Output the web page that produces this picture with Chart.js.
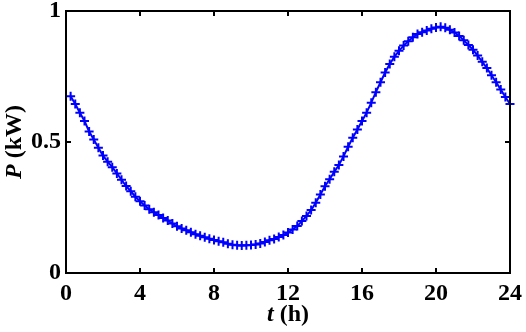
<!DOCTYPE html>
<html>
<head>
<meta charset="utf-8">
<script src="https://cdn.jsdelivr.net/npm/chart.js@4"></script>
<style>
html, body { margin: 0; padding: 0; background: #fff; }
#wrap { width: 526px; height: 332px; }
</style>
</head>
<body>
<div id="wrap"><canvas id="power"></canvas></div>
<script>
// Daily power profile, one point every 15 min
var hours = [0.25, 0.5, 0.75, 1, 1.25, 1.5, 1.75, 2, 2.25, 2.5, 2.75, 3,
  3.25, 3.5, 3.75, 4, 4.25, 4.5, 4.75, 5, 5.25, 5.5, 5.75, 6,
  6.25, 6.5, 6.75, 7, 7.25, 7.5, 7.75, 8, 8.25, 8.5, 8.75, 9,
  9.25, 9.5, 9.75, 10, 10.25, 10.5, 10.75, 11, 11.25, 11.5, 11.75, 12,
  12.25, 12.5, 12.75, 13, 13.25, 13.5, 13.75, 14, 14.25, 14.5, 14.75, 15,
  15.25, 15.5, 15.75, 16, 16.25, 16.5, 16.75, 17, 17.25, 17.5, 17.75, 18,
  18.25, 18.5, 18.75, 19, 19.25, 19.5, 19.75, 20, 20.25, 20.5, 20.75, 21,
  21.25, 21.5, 21.75, 22, 22.25, 22.5, 22.75, 23, 23.25, 23.5, 23.75, 24];
var power = [0.675, 0.645, 0.612, 0.58, 0.54, 0.51, 0.478, 0.448, 0.425, 0.404, 0.38, 0.356,
  0.332, 0.312, 0.291, 0.274, 0.258, 0.243, 0.232, 0.221, 0.21, 0.2, 0.189, 0.178,
  0.17, 0.163, 0.156, 0.148, 0.142, 0.136, 0.131, 0.126, 0.121, 0.117, 0.112, 0.108,
  0.106, 0.105, 0.106, 0.107, 0.109, 0.113, 0.118, 0.125, 0.13, 0.137, 0.145, 0.155,
  0.166, 0.179, 0.198, 0.218, 0.24, 0.268, 0.3, 0.331, 0.358, 0.386, 0.412, 0.445,
  0.482, 0.516, 0.548, 0.58, 0.612, 0.65, 0.69, 0.728, 0.765, 0.798, 0.825, 0.848,
  0.868, 0.885, 0.9, 0.912, 0.919, 0.926, 0.932, 0.937, 0.94, 0.936, 0.928, 0.918,
  0.905, 0.888, 0.87, 0.852, 0.83, 0.806, 0.782, 0.755, 0.728, 0.7, 0.672, 0.645];
var xTicks = [0, 4, 8, 12, 16, 20, 24];
var yTicks = [0, 0.5, 1];

var serif = '"Liberation Serif", "Times New Roman", serif';

// matlab style box, inward ticks and mixed-style axis titles
var frame = {
  id: 'frame',
  afterDraw: function(chart) {
    var ctx = chart.ctx, a = chart.chartArea;
    var xs = chart.scales.x, ys = chart.scales.y;
    ctx.save();
    ctx.strokeStyle = '#000';
    ctx.lineWidth = 2;
    ctx.strokeRect(a.left, a.top, a.right - a.left, a.bottom - a.top);
    ctx.beginPath();
    xTicks.forEach(function(v) {
      var px = Math.round(xs.getPixelForValue(v));
      ctx.moveTo(px, a.bottom); ctx.lineTo(px, a.bottom - 5);
      ctx.moveTo(px, a.top); ctx.lineTo(px, a.top + 5);
    });
    yTicks.forEach(function(v) {
      var py = Math.round(ys.getPixelForValue(v));
      ctx.moveTo(a.left, py); ctx.lineTo(a.left + 5, py);
      ctx.moveTo(a.right, py); ctx.lineTo(a.right - 5, py);
    });
    ctx.stroke();

    ctx.fillStyle = '#000';
    ctx.textBaseline = 'alphabetic';
    // x title: t (h)
    var f1 = 'italic bold 24px ' + serif, f2 = 'bold 24px ' + serif;
    ctx.font = f1; var w1 = ctx.measureText('t').width;
    ctx.font = f2; var w2 = ctx.measureText(' (h)').width;
    var cx = (a.left + a.right) / 2 - (w1 + w2) / 2;
    ctx.font = f1; ctx.fillText('t', cx, 321);
    ctx.font = f2; ctx.fillText(' (h)', cx + w1, 321);
    // y title: P (kW)
    ctx.translate(21, (a.top + a.bottom) / 2);
    ctx.rotate(-Math.PI / 2);
    ctx.font = f1; w1 = ctx.measureText('P').width;
    ctx.font = f2; w2 = ctx.measureText(' (kW)').width;
    ctx.font = f1; ctx.fillText('P', -(w1 + w2) / 2, 0);
    ctx.font = f2; ctx.fillText(' (kW)', -(w1 + w2) / 2 + w1, 0);
    ctx.restore();
  }
};

var ctx = document.getElementById('power').getContext('2d');
var myChart = new Chart(ctx, {
  type: 'line',
  data: {
    datasets: [{
      label: 'P',
      data: hours.map(function(t, i) { return { x: t, y: power[i] }; }),
      borderColor: '#0000ff',
      backgroundColor: '#0000ff',
      borderWidth: 2,
      pointStyle: 'cross',
      pointRadius: 4.5,
      pointBorderWidth: 2,
      pointBorderColor: '#0000ff',
      tension: 0,
      clip: false
    }]
  },
  options: {
    responsive: true,
    maintainAspectRatio: false,
    animation: false,
    layout: { padding: { left: 0, top: 11, right: 16, bottom: 0 } },
    plugins: { legend: { display: false }, tooltip: { enabled: false } },
    scales: {
      x: {
        type: 'linear', min: 0, max: 24,
        afterBuildTicks: function(s) { s.ticks = xTicks.map(function(v) { return { value: v }; }); },
        afterFit: function(s) { s.height = 59; s.paddingLeft = 0; s.paddingRight = 0; },
        grid: { display: false, drawTicks: false },
        border: { display: false },
        ticks: { color: '#000', padding: 6, maxRotation: 0, font: { family: serif, size: 24, weight: 'bold' },
          callback: function(v) { return String(v); } }
      },
      y: {
        min: 0, max: 1,
        afterBuildTicks: function(s) { s.ticks = yTicks.map(function(v) { return { value: v }; }); },
        afterFit: function(s) { s.width = 66; s.paddingTop = 0; s.paddingBottom = 0; },
        grid: { display: false, drawTicks: false },
        border: { display: false },
        ticks: { color: '#000', padding: 5, font: { family: serif, size: 24, weight: 'bold' },
          callback: function(v) { return String(v); } }
      }
    }
  },
  plugins: [frame]
});
</script>
</body>
</html>
